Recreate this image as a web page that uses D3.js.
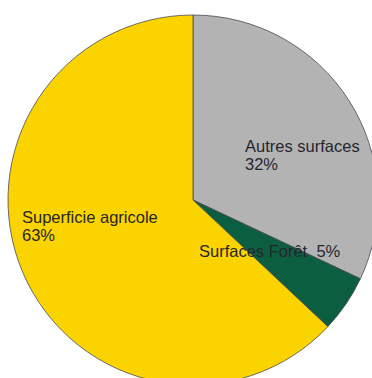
<!DOCTYPE html>
<html>
<head>
<meta charset="utf-8">
<script src="https://cdn.jsdelivr.net/npm/d3@7"></script>
<style>
  body { margin: 0; background: #fff; }
  text { font-family: "Liberation Sans", Arial, sans-serif; font-size: 16.5px; fill: #26262e; white-space: pre; }
</style>
</head>
<body>
<script>
const width = 372;
const height = 378;

// data, in drawing order (clockwise from 12 o'clock)
const categories = ["Autres surfaces", "Surfaces Forêt", "Superficie agricole"];
const values = [32, 5, 63];
const colors = ["#b3b3b3", "#0c5e40", "#fbd400"];

// label text lines
const labelLines = [
    ["Autres surfaces", "32%"],
    ["Surfaces Forêt  5%"],
    ["Superficie agricole", "63%"]
];

// label anchor offsets from the pie centre
const labelOffsets = [[52, -48], [6, 57], [-171, 23]];

const cx = 193, cy = 200, radius = 185;

const svg = d3.select("body").append("svg")
    .attr("width", width)
    .attr("height", height);

const pie = d3.pie().sort(null).value(d => d.value);
const arc = d3.arc().innerRadius(0).outerRadius(radius);

const data = categories.map((c, i) => ({ name: c, value: values[i], color: colors[i] }));

const g = svg.append("g")
    .attr("transform", `translate(${cx},${cy})`);

g.selectAll("path")
    .data(pie(data))
    .enter().append("path")
    .attr("d", arc)
    .attr("fill", d => d.data.color)
    .attr("stroke", "#4a4a55")
    .attr("stroke-width", 0.8);

const labels = g.selectAll("text")
    .data(data)
    .enter().append("text")
    .attr("x", (d, i) => labelOffsets[i][0])
    .attr("y", (d, i) => labelOffsets[i][1]);

labels.selectAll("tspan")
    .data((d, i) => labelLines[i].map(t => ({ t, i })))
    .enter().append("tspan")
    .attr("x", d => labelOffsets[d.i][0])
    .attr("dy", (d, j) => j === 0 ? 0 : 18)
    .text(d => d.t);
</script>
</body>
</html>
